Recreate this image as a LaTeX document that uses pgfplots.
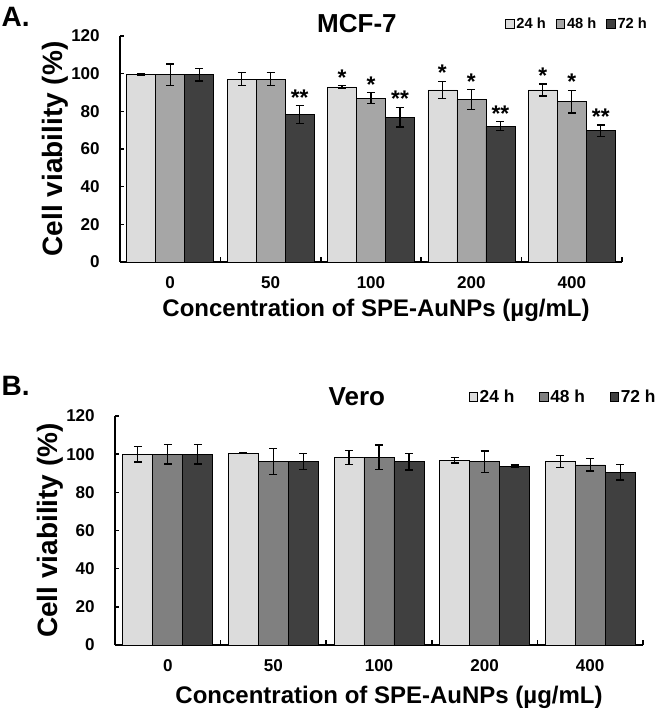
\documentclass[border=0pt]{standalone}
\usepackage{pgfplots}
\pgfplotsset{compat=1.18}
\usepackage{pgfplotstable}
\usepackage{fontspec}
\setmainfont{Liberation Sans}
\definecolor{cA}{HTML}{DCDCDC}
\definecolor{cB}{HTML}{A6A6A6}
\definecolor{cBv}{HTML}{808080}
\definecolor{cC}{HTML}{404040}

% Panel A (MCF-7)
\pgfplotstableread{
x y e
0 99.5 0.5
1 97.1 3.4
2 93.0 0.7
3 91.4 4.6
4 91.4 3.2
}\AaA
\pgfplotstableread{
x y e
0 99.5 5.7
1 97.1 3.4
2 87.0 2.9
3 86.3 5.3
4 85.2 6.0
}\AaB
\pgfplotstableread{
x y e
0 99.5 3.4
1 78.2 4.8
2 76.9 5.3
3 72.1 2.4
4 69.7 3.0
}\AaC
\pgfplotstableread{
x y s
1.711 93.7 *
2.711 96.0 *
3.711 94.6 *
2 89.9 *
3 91.6 *
4 91.2 *
1.289 83.0 **
2.289 82.2 **
3.289 74.5 **
4.289 72.7 **
}\AStars
% Panel B (Vero)
\pgfplotstableread{
x y e
0 100.0 4.1
1 100.5 0.3
2 98.3 3.6
3 96.8 1.4
4 96.1 3.1
}\BbA
\pgfplotstableread{
x y e
0 100.0 5.1
1 96.1 6.8
2 98.4 6.4
3 96.1 5.6
4 94.4 3.2
}\BbB
\pgfplotstableread{
x y e
0 100.0 5.1
1 96.1 4.1
2 96.1 4.4
3 93.7 0.7
4 90.5 4.0
}\BbC

\pgfplotsset{
  cellax/.style={
    scale only axis, axis lines*=left,
    axis line style={line width=1.6pt, black},
    xmin=-0.5, xmax=4.5, ymin=0, ymax=120,
    ytick={0,20,...,120}, xtick={0,...,4}, xticklabels={0,50,100,200,400},
    minor xtick={0.5,1.5,2.5,3.5,4.5},
    major x tick style={draw=none},
    tick style={line width=1.1pt, black},
    major tick length=3pt, minor tick length=4pt,
    tick align=inside,
    clip=false,
    /pgf/number format/assume math mode=true,
    ticklabel style={font=\fontsize{12.8}{14}\selectfont\bfseries},
    xticklabel style={anchor=center, inner sep=0pt, yshift=-15.75pt},
    yticklabel style={anchor=east, inner sep=0pt, xshift=-15pt},
    xlabel={Concentration of SPE-AuNPs (µg/mL)},
    ylabel={Cell viability (\%)},
    every axis y label/.style={at={(axis description cs:0,0.5)}, rotate=90, anchor=center, yshift=48.75pt, font=\fontsize{21}{22}\selectfont\bfseries},
  },
  mybar/.style n args={2}{ybar, bar width=#2, bar shift=0pt, draw=black, line width=0.5pt, fill=#1,
    error bars/y dir=both, error bars/y explicit,
    error bars/error bar style={line width=1pt, black},
    error bars/error mark options={rotate=90, mark size=3pt, line width=1pt, black},
    legend image code/.code={\draw[fill=#1, draw=black, line width=0.5pt] (0pt,-3.2pt) rectangle (6.4pt,3.2pt);}},
}

\begin{document}
\begin{tikzpicture}
\path[use as bounding box] (0,0) rectangle (498.75pt,533.25pt);
\node[anchor=west, inner sep=0pt, font=\fontsize{21}{22}\selectfont\bfseries] at (1pt,520.5pt) {A.};
\node[anchor=west, inner sep=0pt, font=\fontsize{21}{22}\selectfont\bfseries] at (1pt,243.75pt) {B.};

\begin{axis}[cellax, at={(90pt,336.75pt)}, anchor=south west, width=376.5pt, height=169.5pt,
  every axis x label/.style={at={(axis description cs:0.51,0)}, anchor=center, yshift=-36pt, font=\fontsize{18}{20}\selectfont\bfseries},
  legend style={at={(0.767,1.053)}, anchor=west, draw=none, fill=none, legend columns=3,
    font=\fontsize{11}{12}\selectfont\bfseries, inner sep=0pt,
    nodes={inner sep=1.5pt},
    /tikz/every even column/.append style={column sep=6pt}},
]
\addplot[mybar={cA}{21.76pt}] table[x expr=\thisrow{x}-0.289, y=y, y error=e] {\AaA};
\addlegendentry{24 h}
\addplot[mybar={cB}{21.76pt}] table[x=x, y=y, y error=e] {\AaB};
\addlegendentry{48 h}
\addplot[mybar={cC}{21.76pt}] table[x expr=\thisrow{x}+0.289, y=y, y error=e] {\AaC};
\addlegendentry{72 h}
\addplot[forget plot, only marks, mark=none, nodes near coords, point meta=explicit symbolic,
  nodes near coords style={anchor=south, inner sep=0pt, font=\fontsize{17}{17}\selectfont\bfseries}]
  table[x=x, y=y, meta=s] {\AStars};
\node[font=\fontsize{19.5}{20}\selectfont\bfseries] at (rel axis cs:0.472,1.053) {MCF-7};
\end{axis}

\begin{axis}[cellax, at={(86.25pt,49.5pt)}, anchor=south west, width=396pt, height=171.75pt,
  every axis x label/.style={at={(axis description cs:0.519,0)}, anchor=center, yshift=-39pt, font=\fontsize{18}{20}\selectfont\bfseries},
  legend style={at={(0.669,1.083)}, anchor=west, draw=none, fill=none, legend columns=3,
    font=\fontsize{13}{14}\selectfont\bfseries, inner sep=0pt,
    nodes={inner sep=1.5pt},
    /tikz/every even column/.append style={column sep=17pt}},
]
\addplot[mybar={cA}{22.5pt}] table[x expr=\thisrow{x}-0.284, y=y, y error=e] {\BbA};
\addlegendentry{24 h}
\addplot[mybar={cBv}{22.5pt}] table[x=x, y=y, y error=e] {\BbB};
\addlegendentry{48 h}
\addplot[mybar={cC}{22.5pt}] table[x expr=\thisrow{x}+0.284, y=y, y error=e] {\BbC};
\addlegendentry{72 h}
\node[font=\fontsize{19.5}{20}\selectfont\bfseries] at (rel axis cs:0.458,1.083) {Vero};
\end{axis}
\end{tikzpicture}
\end{document}
